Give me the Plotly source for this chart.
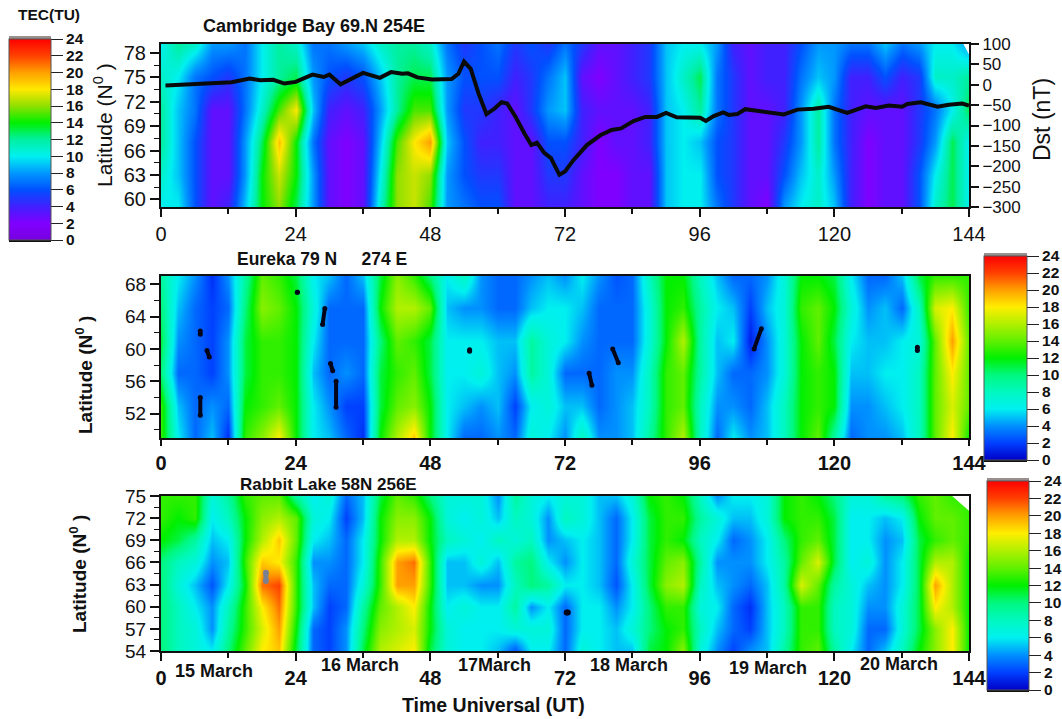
import plotly.graph_objects as go

W, H = 1062, 719
hours = list(range(0, 145, 3))

# Cambridge Bay TEC rows (one row per latitude)
cb_lats = [59.05, 63, 67, 71, 75, 79.1]
cb59 = [10,10,6,3,4,9,14,16,13,8,3,2,3,11,16,17,15,8,7,6,6,3,3,4,4,3,2,2,3,3,9,10,10,7,5,3,2,8,10,11,9,4,2,3,3,6,11,13,10]
cb63 = [11,9,6,3,3,8,14,17,14,8,3,2,3,10,16,17,16,8,6,5,5,3,3,5,5,3,2,2,3,3,9,10,10,6,5,3,3,6,9,11,8,4,2,3,3,6,10,13,10]
cb67 = [12,9,6,3,3,8,13,19,14,7,3,2,3,9,15,18,20,9,6,4,4,3,3,6,6,4,2,3,3,4,9,10,9,6,5,3,3,5,8,12,7,4,2,3,3,5,8,13,10]
cb71 = [12,9,7,3,3,7,11,15,18,9,4,3,4,8,12,15,15,8,5,5,4,3,5,8,9,4,3,3,3,4,9,10,12,7,5,3,3,4,8,12,7,4,3,3,3,5,7,10,13]
cb75 = [11,10,7,6,5,7,10,12,13,8,6,5,6,9,12,13,13,8,6,6,6,4,5,7,9,3,2,3,4,5,9,11,13,7,5,3,4,4,7,9,8,4,4,6,4,5,11,11,12]
cb79 = [10,12,11,8,8,7,10,12,11,7,7,8,9,11,12,12,11,7,5,6,7,5,6,5,7,5,3,3,4,5,9,10,10,8,4,3,4,4,6,8,8,7,7,9,7,8,10,10,8]

# Eureka TEC rows
eu_lats = [49, 53, 57, 61, 65, 69]
eu49 = [13,6,3,5,1.5,13,15,18,12,6,5,3,1.5,12,16,19,12,6,3,3,4,3,7,6,4,8,4,4,5,9,13,16,8,3,6,4,5,8,12,14,9,3,4,4,5,8,14,18,12]
eu53 = [13,5,3,4,3,12,13,14,12,6,4,2,2,11,14,15,12,6,5,4,5,2,6,7,5,5,3,4,5,8,13,14,8,4,4,3,5,8,12,13,12,4,4,5,6,8,14,17,14]
eu57 = [10,3,3,2,4,11,13,13,12,5,3,4,3,11,13,14,11,6,6,7,5,4,9,7,3,3,3,4,4,8,13,14,9,5,3,3,4,7,12,13,12,5,5,6,6,8,14,18,14]
eu61 = [11,4,3,2,4,11,13,13,12,6,3,3,3,10,14,13,11,6,6,6,5,5,9,7,6,4,3,3,3,7,12,16,9,5,6,1,4,7,12,14,11,6,5,5,6,7,14,20,14]
eu65 = [10,5,3,2,3,10,15,14,12,7,3,3,3,12,16,16,14,5,4,4,3,3,5,6,6,5,3,3,3,7,12,13,9,6,5,2,5,7,13,14,12,7,4,5,3,8,17,18,13]
eu69 = [9,6,4,1.5,4,9,14,13,11,6,5,3,5,11,15,13,10,6,8,4,3,3,4,5,4,6,4,2.5,3,8,12,12,8,5,3,3,4,7,12,12,11,6,3,3,5,11,13,13,13]

# Rabbit Lake TEC rows
rl_lats = [54, 57, 60, 63, 66, 69, 72, 75]
rl54 = [10,8,7,6,10,14,18,19,11,3,2,4,11,16,17,18,11,7,6,6,5,2.5,6,6,3,7,6,5,5,11,12,15,7,4,2,4,5,9,13,14,9,6,3,5,8,12,15,18,12]
rl57 = [10,8,7,4,9,13,17,20,12,3,2,4,10,15,16,17,12,7,6,6,6,7,7,7,3,6,6,5,7,10,12,13,8,5,3,2,5,8,13,13,8,7,3,3,7,11,15,18,12]
rl60 = [10,8,6,4,8,13,18,21,13,5,2,3,9,14,16,18,12,6,7,6,6,9,4,6,3,6,6,4,6,10,13,13,7,6,3,1.5,5,8,13,13,8,7,4,4,7,11,18,16,12]
rl63 = [10,7,5,2.5,6,12,21,22,13,5,3,3,7,13,20,20,13,5,5,4,4,8,10,9,6,6,5,2.5,6,11,15,16,8,5,4,3,5,9,17,14,9,7,5,4,6,11,20,16,12]
rl66 = [10,8,7,4,5,13,19,18,13,4,4,3,6,13,20,21,13,5,5,7,5,9,10,6,4,6,5,3,7,11,14,15,9,4,4,4,6,9,14,17,11,6,7,4,6,11,16,16,12]
rl69 = [12,11,9,5,6,12,16,19,14,6,5,3,6,12,16,16,12,8,7,6,8,7,8,4,5,6,5,3,6,11,13,12,8,6,3,4,6,10,13,14,11,6,6,4,5,11,13,14,13]
rl72 = [13,12,13,6,8,12,15,16,14,7,6,2,5,12,15,15,12,7,6,7,5,8,7,4,8,7,5,3,6,11,13,13,9,7,5,5,7,12,13,13,11,6,6,5,6,12,14,14,13]
rl75 = [13,13,13,7,9,13,14,14,9,6,7,3,5,11,14,13,10,7,7,7,4,9,7,6,7,7,5,5,7,12,13,12,8,4,6,6,7,12,13,12,10,7,7,9,10,13,14,13,13]

# Dst index
dst_hours = [0.8,6,12.6,15.8,17.7,20,22,24,27,29,30,32,34,36,39,41,43,44,45.7,48.3,51.8,53,54,55.2,56.6,58,59.4,60.7,61.7,63.2,64.8,66,67,68.3,69.5,71,72,73.5,75.9,78.3,80.3,82,84.2,86.3,88.4,90,91.9,96.1,97.1,98.5,100.2,101.2,102.7,104.1,106.2,108.6,111,113.4,116.3,119,122.3,125.6,127.4,129.7,132.1,133,135.4,138.4,140.4,142.8,144]
dst_values = [-2,1,6,15,11,12,3,7,25,19,25,1,15,29,17,31,27,28,18,13,14,27,57,39,-22,-72,-59,-43,-46,-79,-120,-148,-142,-167,-180,-221,-213,-185,-148,-124,-111,-107,-89,-79,-79,-69,-80,-81,-89,-77,-68,-74,-72,-60,-64,-68,-73,-61,-59,-54,-69,-53,-57,-51,-54,-47,-43,-54,-49,-46,-51]

# Data-gap spots
eu_gap_t = [24.3,24.3,None,7,7,None,7,7,None,8.2,8.6,None,31.2,31.2,None,29.2,28.8,None,30.2,30.6,None,55,55,None,105.7,107,None,80.5,81.5,None,134.8,134.8,None,76.3,76.8]
eu_gap_lat = [67,67,None,62.2,61.8,None,54,51.8,None,59.8,59,None,56,52.8,None,65,63,None,58.2,57.3,None,59.9,59.7,None,60,62.5,None,60,58.3,None,60.2,59.8,None,57,55.5]
rl_gap_t = [72.3,72.5]
rl_gap_lat = [59.2,59.2]
rl_grey_t = [18.7,18.7]
rl_grey_lat = [64.6,63.5]

tick_vals_x = [0, 24, 48, 72, 96, 120, 144]
tec_ticks = list(range(0, 25, 2))

scale_top = [[0,"#7800e0"],[1/12,"#8000ff"],[2/12,"#4020ff"],[3/12,"#0050ff"],[4/12,"#0098ff"],[5/12,"#00f0f0"],[6/12,"#00f0a0"],[7/12,"#00f000"],[8/12,"#90e000"],[9/12,"#ffe800"],[10/12,"#ffa000"],[11/12,"#ff4000"],[1,"#ff0000"]]
scale_low = [[0,"#0000c8"],[1/12,"#0040ff"],[2/12,"#0090ff"],[3/12,"#00f0f0"],[4/12,"#00f8c0"],[5/12,"#00f880"],[6/12,"#00f000"],[7/12,"#60f000"],[8/12,"#b0f000"],[9/12,"#ffee00"],[10/12,"#ffa000"],[11/12,"#ff4000"],[1,"#ff0000"]]

FONT = "Liberation Sans"

def dom_x(a, b): return [a / W, b / W]
def dom_y(top, bottom): return [1 - bottom / H, 1 - top / H]

def cbar(x, top, bottom, thick):
    return dict(x=x / W, xanchor="left", xpad=0, y=1 - bottom / H, yanchor="bottom", ypad=0,
                lenmode="pixels", len=bottom - top, thicknessmode="pixels", thickness=thick,
                tickmode="array", tickvals=tec_ticks, ticks="outside", ticklen=12, tickwidth=1,
                tickcolor="#222", outlinewidth=1, outlinecolor="#555", borderwidth=0,
                tickfont=dict(family=FONT, size=15.5, color="#111", weight=700))

fig = go.Figure()
fig.add_trace(go.Heatmap(x=hours, y=cb_lats, z=[cb59, cb63, cb67, cb71, cb75, cb79], zmin=0, zmax=24,
                         zsmooth="best", colorscale=scale_top, colorbar=cbar(9, 39, 240, 42), xaxis="x", yaxis="y", hoverinfo="skip"))
fig.add_trace(go.Scatter(x=dst_hours, y=dst_values, mode="lines", line=dict(color="#0a0a0a", width=4),
                         xaxis="x", yaxis="y4", showlegend=False))
fig.add_trace(go.Heatmap(x=hours, y=eu_lats, z=[eu49, eu53, eu57, eu61, eu65, eu69], zmin=0, zmax=24,
                         zsmooth="best", colorscale=scale_low, colorbar=cbar(984, 256, 460, 43), xaxis="x2", yaxis="y2", hoverinfo="skip"))
fig.add_trace(go.Scatter(x=eu_gap_t, y=eu_gap_lat, mode="lines+markers", line=dict(color="#05051a", width=4), marker=dict(color="#05051a", size=5),
                         xaxis="x2", yaxis="y2", showlegend=False))
fig.add_trace(go.Heatmap(x=hours, y=rl_lats, z=[rl54, rl57, rl60, rl63, rl66, rl69, rl72, rl75], zmin=0, zmax=24,
                         zsmooth="best", colorscale=scale_low, colorbar=cbar(987, 481, 690, 42), xaxis="x3", yaxis="y3", hoverinfo="skip"))
fig.add_trace(go.Scatter(x=rl_gap_t, y=rl_gap_lat, mode="lines+markers", line=dict(color="#05051a", width=5), marker=dict(color="#05051a", size=6),
                         xaxis="x3", yaxis="y3", showlegend=False))
fig.add_trace(go.Scatter(x=rl_grey_t, y=rl_grey_lat, mode="lines+markers", line=dict(color="#7a8090", width=5), marker=dict(color="#7a8090", size=6),
                         xaxis="x3", yaxis="y3", showlegend=False))

def xaxis(anchor, size, weight, ticklen=8):
    return dict(domain=dom_x(161, 969), range=[0, 144], anchor=anchor, tickmode="array", tickvals=tick_vals_x,
                ticks="outside", ticklen=ticklen, tickwidth=2, tickcolor="#111", linecolor="#111", linewidth=2, mirror=True,
                showgrid=False, zeroline=False, tickangle=0,
                minor=dict(tickvals=[12, 36, 60, 84, 108, 132], ticks="outside", ticklen=5, tickwidth=1.5, tickcolor="#111"),
                tickfont=dict(family=FONT, size=size, color="#111", weight=weight))

def yaxis(top, bottom, rng, ticks, minors, size, anchor):
    return dict(domain=dom_y(top, bottom), range=rng, anchor=anchor, tickmode="array", tickvals=ticks,
                ticks="outside", ticklen=9, tickwidth=1.5, tickcolor="#111", linecolor="#111", linewidth=2, mirror=True,
                showgrid=False, zeroline=False,
                minor=dict(tickvals=minors, ticks="outside", ticklen=5, tickwidth=1, tickcolor="#111"),
                tickfont=dict(family=FONT, size=size, color="#111"))

ya1 = yaxis(44, 207, [59.05, 79.1], [60,63,66,69,72,75,78], [61.5,64.5,67.5,70.5,73.5,76.5], 20, "x")
ya2 = yaxis(276, 438, [49, 69], [52,56,60,64,68], [50,54,58,62,66], 19, "x2")
ya3 = yaxis(496, 651, [54, 75], [54,57,60,63,66,69,72,75], [55.5,58.5,61.5,64.5,67.5,70.5,73.5], 19, "x3")

def txt(s, x, y, size=14, weight=True, angle=0):
    return dict(text=f"<b>{s}</b>" if weight else s, x=x / W, y=1 - y / H, xref="paper", yref="paper", showarrow=False,
                xanchor="center", yanchor="middle", textangle=angle, font=dict(family=FONT, size=size, color="#111"))

annotations = [
    txt("TEC(TU)", 49, 15, 15.5),
    txt("Cambridge Bay 69.N 254E", 314, 26, 18),
    txt("Eureka 79 N &nbsp;&nbsp;&nbsp; 274 E", 322, 259, 17.5),
    txt("Rabbit Lake 58N 256E", 328, 484, 17),
    txt("15 March", 214, 671, 18), txt("16 March", 360, 665, 18), txt("17March", 494, 665, 18),
    txt("18 March", 629, 665, 18), txt("19 March", 768, 668, 18), txt("20 March", 899, 664, 18),
    txt("Time Universal (UT)", 493, 705, 19.5),
    txt("Latitude (N<sup>0</sup> )", 103, 125, 21, False, -90),
    txt("Latitude (N<sup>0</sup> )", 84, 375, 19, True, -90),
    txt("Latitude (N<sup>0</sup> )", 78, 574, 19, True, -90),
    txt("Dst (nT)", 1042, 120, 23, False, -90),
]

def cap(x0, x1, y0, y1, color):
    return dict(type="rect", xref="paper", yref="paper", x0=x0 / W, x1=x1 / W, y0=1 - y1 / H, y1=1 - y0 / H,
                fillcolor=color, line=dict(width=0), layer="above")

shapes = [
    cap(9, 51, 36, 39, "#9a8f8f"), cap(9, 51, 240, 242, "#111"),
    cap(984, 1027, 253, 256, "#9a8f8f"), cap(984, 1027, 460, 462, "#111"),
    cap(987, 1029, 478, 481, "#9a8f8f"), cap(987, 1029, 690, 692, "#111"),
    dict(type="path", xref="x", yref="y", path="M 143 79.1 L 144 79.1 L 144 77.8 Z", fillcolor="white", line=dict(width=0), layer="above"),
    dict(type="path", xref="x3", yref="y3", path="M 141 75 L 144 75 L 144 73 Z", fillcolor="white", line=dict(width=0), layer="above"),
]

fig.update_layout(
    width=W, height=H, margin=dict(l=0, r=0, t=0, b=0, autoexpand=False), paper_bgcolor="white", plot_bgcolor="white",
    showlegend=False, annotations=annotations, shapes=shapes,
    xaxis=xaxis("y", 20, 400),
    xaxis2=xaxis("y2", 20, 700, 6),
    xaxis3=xaxis("y3", 20, 700),
    yaxis=ya1, yaxis2=ya2, yaxis3=ya3,
    yaxis4=dict(domain=ya1["domain"], overlaying="y", side="right", anchor="x", range=[-300, 100],
                tickmode="array", tickvals=[-300,-250,-200,-150,-100,-50,0,50,100], ticks="outside", ticklen=9,
                tickwidth=1.5, tickcolor="#111", showgrid=False, zeroline=False, showline=False,
                tickfont=dict(family=FONT, size=17, color="#111")),
)

fig.write_html("out.html", config=dict(displayModeBar=False), post_script="document.body.style.margin='0';")
